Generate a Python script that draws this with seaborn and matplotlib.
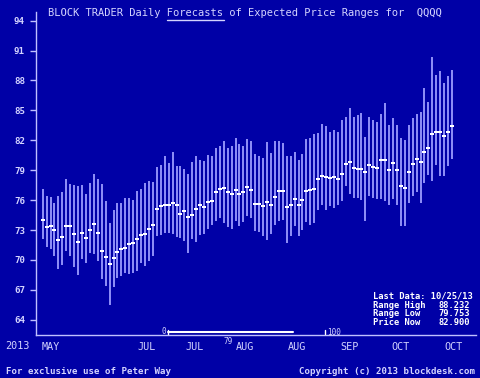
import matplotlib
matplotlib.use('Agg')
import matplotlib.pyplot as plt
import pandas as pd
import seaborn as sns
from matplotlib.lines import Line2D

# Forecast ranges (one bar per trading day)
high = [77.15, 76.45, 76.28, 75.72, 76.45, 76.82, 78.12, 77.65, 77.55, 77.38,
        77.55, 76.62, 77.68, 78.62, 78.12, 77.65, 75.95, 73.72, 75.05, 75.72,
        75.72, 76.18, 76.18, 75.98, 76.88, 77.15, 77.72, 77.95, 77.78, 79.28,
        79.55, 80.38, 79.72, 80.78, 79.45, 79.38, 79.12, 78.62, 79.78, 80.45,
        79.98, 79.88, 80.55, 80.38, 81.22, 81.45, 81.98, 81.18, 81.45, 82.28,
        81.62, 81.45, 82.18, 81.88, 80.62, 80.38, 80.22, 81.78, 80.72, 81.88,
        81.92, 81.72, 80.45, 80.38, 80.82, 80.05, 80.65, 82.12, 82.22, 82.65,
        82.72, 83.62, 83.48, 82.88, 83.05, 82.82, 84.05, 84.38, 85.22, 84.38,
        84.55, 84.72, 82.32, 84.38, 84.05, 83.88, 84.62, 85.78, 83.55, 84.28,
        83.55, 82.28, 82.05, 83.55, 84.22, 84.65, 84.82, 87.22, 85.82, 90.32,
        88.55, 88.95, 87.72, 88.48, 89.05]
low = [72.12, 71.28, 71.05, 70.38, 69.12, 69.45, 70.88, 70.38, 69.32, 68.48,
       70.05, 69.72, 70.65, 70.55, 69.88, 68.12, 67.35, 65.48, 67.32, 68.15,
       68.38, 68.65, 68.55, 68.65, 68.88, 69.65, 69.38, 69.88, 70.38, 72.45,
       72.55, 72.72, 72.72, 72.62, 72.28, 72.22, 71.88, 70.72, 72.05, 71.78,
       72.55, 72.65, 73.15, 73.55, 73.95, 74.22, 73.72, 73.32, 73.12, 73.88,
       73.38, 73.85, 74.38, 74.22, 72.88, 72.78, 72.38, 71.95, 72.65, 73.55,
       73.88, 74.05, 71.72, 72.38, 73.38, 72.45, 73.05, 73.78, 73.55, 73.72,
       75.05, 75.55, 75.05, 75.38, 75.22, 75.55, 75.88, 77.38, 76.65, 76.22,
       76.22, 76.05, 73.88, 76.38, 76.22, 76.12, 76.12, 75.95, 75.55, 76.12,
       75.55, 73.38, 73.38, 75.72, 76.38, 76.78, 75.72, 77.72, 78.55, 77.88,
       79.55, 78.45, 78.38, 79.45, 80.12]
mid = [73.98, 73.28, 73.42, 72.98, 72.02, 72.32, 73.42, 73.42, 72.65, 71.78,
       72.72, 72.25, 72.98, 73.58, 72.72, 70.92, 70.28, 69.58, 70.15, 70.75,
       71.12, 71.18, 71.58, 71.68, 72.05, 72.55, 72.65, 73.15, 73.52, 75.12,
       75.42, 75.55, 75.48, 75.72, 75.52, 74.65, 74.95, 74.32, 74.55, 75.12,
       75.48, 75.32, 75.82, 75.95, 76.78, 77.12, 77.22, 76.78, 76.58, 76.98,
       76.65, 76.85, 77.28, 76.98, 75.65, 75.62, 75.45, 75.78, 75.55, 76.32,
       76.88, 76.92, 75.28, 75.55, 76.15, 75.55, 76.05, 76.88, 77.05, 77.15,
       78.08, 78.45, 78.28, 78.18, 78.28, 78.08, 78.62, 79.65, 79.82, 79.25,
       79.12, 79.12, 78.85, 79.48, 79.32, 79.18, 80.05, 79.98, 79.02, 79.72,
       79.05, 77.45, 77.22, 78.85, 79.58, 80.15, 79.82, 80.78, 81.22, 82.65,
       82.82, 82.88, 82.42, 82.82, 83.42]

month_pos = [2, 26.5, 38.5, 51.5, 64.5, 78, 91, 104.5]
month_labels = ['MAY', 'JUL', 'JUL', 'AUG', 'AUG', 'SEP', 'OCT', 'OCT']
y_ticks = list(range(64, 95, 3))

info_labels = ['Range High', 'Range Low', 'Price Now']
info_values = ['88.232', '79.753', '82.900']

bg = '#0000a6'
bar_color = '#9c9cff'
text_color = '#d4d4ff'

df = pd.DataFrame({'day': range(len(mid)), 'high': high, 'low': low, 'mid': mid})
long_df = df.melt(id_vars='day', value_vars=['low', 'high'], value_name='price')

sns.set_style('dark')
plt.rcParams['font.family'] = ['DejaVu Sans Mono']

W, H = 480, 378
fig = plt.figure(figsize=(4.8, 3.78), dpi=100, facecolor=bg)
ax = fig.add_axes([36 / W, 1 - 334.7 / H, 440 / W, 323 / H])
ax.set_facecolor(bg)

# range bars + midpoint markers
sns.lineplot(data=long_df, x='day', y='price', units='day', estimator=None,
             color=bar_color, lw=1.3, solid_capstyle='butt', ax=ax, legend=False)
sns.scatterplot(data=df, x='day', y='mid', marker=[(-2, -1), (2, -1), (2, 1), (-2, 1)],
                s=12, color='white', linewidth=0, ax=ax, zorder=3, legend=False)

ax.set_xlim(-1.7, 110.1)
ax.set_ylim(62.5, 94.9)
ax.grid(False)
for s in ['top', 'right']:
    ax.spines[s].set_visible(False)
for s in ['left', 'bottom']:
    ax.spines[s].set_visible(True)
    ax.spines[s].set_color('#c0c0ff')
    ax.spines[s].set_linewidth(1)

ax.set_yticks(y_ticks)
ax.tick_params(axis='y', left=True, length=4, width=1, color='#c0c0ff',
               labelcolor=text_color, labelsize=6.6, pad=4)
for lbl in ax.get_yticklabels():
    lbl.set_fontweight('bold')
ax.set_xticks(month_pos, month_labels)
ax.tick_params(axis='x', bottom=False, length=0, labelcolor=text_color,
               labelsize=7.3, pad=5.5)
ax.set(xlabel='', ylabel='')


def fy(y):
    return 1 - y / H


# title with underlined "Forecasts"
fig.text(48 / W, fy(13), 'BLOCK TRADER Daily Forecasts of Expected Price Ranges for  QQQQ',
         fontsize=7.5, color=text_color, va='center', ha='left')
fig.add_artist(Line2D([167 / W, 223.5 / W], [fy(19.5)] * 2, color=text_color, lw=1))

fig.text(5 / W, fy(346), '2013', fontsize=7.3, color=text_color, va='center')
fig.text(223 / W, fy(341), '79', fontsize=5.5, color=text_color, va='center')

# little scroll indicator under the plot
fig.text(162 / W, fy(331), '0', fontsize=5.5, color=text_color, va='center')
fig.add_artist(Line2D([168 / W, 293 / W], [fy(331.5)] * 2, color='white', lw=1.5))
fig.add_artist(Line2D([168 / W, 168 / W], [fy(329.5), fy(333.5)], color='white', lw=1))
fig.add_artist(Line2D([325 / W, 325 / W], [fy(330), fy(334)], color='white', lw=1))
fig.text(327 / W, fy(332.5), '100', fontsize=5.5, color=text_color, va='center')

# info box
fig.text(373 / W, fy(296), 'Last Data: 10/25/13', fontsize=6.3, weight='bold',
         color='white', va='center')
for i, (lab, val) in enumerate(zip(info_labels, info_values)):
    y = fy(305 + i * 8.7)
    fig.text(373 / W, y, lab, fontsize=6.3, weight='bold', color='white', va='center')
    fig.text(470 / W, y, val, fontsize=6.3, weight='bold', color='white', va='center', ha='right')

# footer
fig.text(6 / W, fy(371), 'For exclusive use of Peter Way', fontsize=6.6,
         weight='bold', color=text_color, va='center')
fig.text(475 / W, fy(371), 'Copyright (c) 2013 blockdesk.com', fontsize=6.6,
         weight='bold', color=text_color, va='center', ha='right')

fig.savefig('out.png', dpi=100, facecolor=bg)
